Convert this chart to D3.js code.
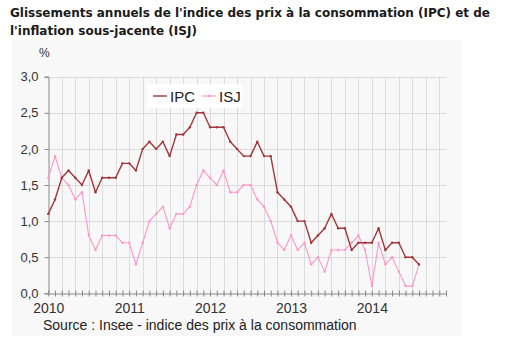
<!DOCTYPE html>
<html>
<head>
<meta charset="utf-8">
<script src="https://cdn.jsdelivr.net/npm/d3@7"></script>
<style>
  html, body { margin: 0; padding: 0; background: #ffffff; }
  svg { display: block; }
</style>
</head>
<body>
<svg id="chart" width="505" height="337"></svg>
<script>
// Monthly year-on-year changes, January 2010 to August 2014 (%)
const months = d3.timeMonth.range(new Date(2010, 0, 1), new Date(2014, 8, 1));
const ipc = [1.1, 1.3, 1.6, 1.7, 1.6, 1.5, 1.7, 1.4, 1.6, 1.6, 1.6, 1.8,
             1.8, 1.7, 2.0, 2.1, 2.0, 2.1, 1.9, 2.2, 2.2, 2.3, 2.5, 2.5,
             2.3, 2.3, 2.3, 2.1, 2.0, 1.9, 1.9, 2.1, 1.9, 1.9, 1.4, 1.3,
             1.2, 1.0, 1.0, 0.7, 0.8, 0.9, 1.1, 0.9, 0.9, 0.6, 0.7, 0.7,
             0.7, 0.9, 0.6, 0.7, 0.7, 0.5, 0.5, 0.4];
const isj = [1.6, 1.9, 1.6, 1.5, 1.3, 1.4, 0.8, 0.6, 0.8, 0.8, 0.8, 0.7,
             0.7, 0.4, 0.7, 1.0, 1.1, 1.2, 0.9, 1.1, 1.1, 1.2, 1.5, 1.7,
             1.6, 1.5, 1.7, 1.4, 1.4, 1.5, 1.5, 1.3, 1.2, 1.0, 0.7, 0.6,
             0.8, 0.6, 0.7, 0.4, 0.5, 0.3, 0.6, 0.6, 0.6, 0.7, 0.8, 0.6,
             0.1, 0.7, 0.4, 0.5, 0.3, 0.1, 0.1, 0.4];
const yTicks = [0, 0.5, 1.0, 1.5, 2.0, 2.5, 3.0];
const yearLabels = ["2010", "2011", "2012", "2013", "2014"];
const seriesNames = ["IPC", "ISJ"];
const titleLines = ["Glissements annuels de l'indice des prix à la consommation (IPC) et de",
                    "l'inflation sous-jacente (ISJ)"];
const sourceText = "Source : Insee - indice des prix à la consommation";

const colors = { IPC: "#a3363a", ISJ: "#ff96c6" };
const svg = d3.select("#chart");

// Light panel behind the chart
svg.append("rect")
  .attr("x", 12).attr("y", 40).attr("width", 450).attr("height", 296)
  .attr("fill", "#f8f8f8");

// Title
svg.append("g").selectAll("text").data(titleLines).join("text")
  .attr("x", 10).attr("y", (d, i) => 17 + i * 18)
  .attr("font-family", "DejaVu Sans, Verdana, sans-serif")
  .attr("font-weight", "bold").attr("font-size", 12)
  .attr("fill", "#1a1a1a")
  .text(d => d);

// Scales: months indexed from January 2010, axis runs to December 2014
const x = d3.scaleLinear().domain([0, 59]).range([48.3, 446]);
const y = d3.scaleLinear().domain([0, 3]).range([293.3, 76.7]);
const monthIdx = d => d3.timeMonth.count(new Date(2010, 0, 1), d);

// Grid
const grid = svg.append("g").attr("stroke", "#dcdcdc").attr("stroke-width", 1);
grid.selectAll("line.h").data(yTicks.filter(v => v > 0)).join("line")
  .attr("x1", x(0)).attr("x2", x(59))
  .attr("y1", d => Math.round(y(d)) + 0.5).attr("y2", d => Math.round(y(d)) + 0.5);
grid.selectAll("line.v").data(d3.range(2, 60, 2)).join("line")
  .attr("x1", d => Math.round(x(d)) + 0.5).attr("x2", d => Math.round(x(d)) + 0.5)
  .attr("y1", y(3)).attr("y2", y(0));

// Y axis
const yAxis = svg.append("g")
  .attr("transform", `translate(${Math.round(x(0)) + 0.5},0)`)
  .call(d3.axisLeft(y).tickValues(yTicks).tickSize(4)
        .tickFormat(d => d3.format(".1f")(d).replace(".", ",")));
yAxis.select(".domain").attr("stroke", "#888");
yAxis.selectAll(".tick line").attr("stroke", "#888");
yAxis.selectAll("text")
  .attr("font-family", "Liberation Sans, Arial, sans-serif")
  .attr("font-size", 13).attr("fill", "#333").attr("x", -10);

svg.append("text").attr("x", 39).attr("y", 57)
  .attr("font-family", "Liberation Sans, Arial, sans-serif")
  .attr("font-size", 12).attr("fill", "#333").text("%");

// X axis: a tick for every month, year labels in January
const xAxis = svg.append("g")
  .attr("transform", `translate(0,${Math.round(y(0)) + 0.5})`)
  .call(d3.axisBottom(x).tickValues(d3.range(0, 60)).tickSizeInner(3).tickSizeOuter(0)
        .tickFormat(d => d % 12 === 0 ? yearLabels[d / 12] : ""));
xAxis.select(".domain").attr("stroke", "#888");
xAxis.selectAll(".tick line").attr("stroke", "#888").attr("y1", -3).attr("y2", 3);
xAxis.selectAll("text")
  .attr("font-family", "Liberation Sans, Arial, sans-serif")
  .attr("font-size", 14).attr("fill", "#333").attr("y", 10);

// Series
const series = [
  { name: "IPC", values: ipc, width: 1.4 },
  { name: "ISJ", values: isj, width: 1.1 }
];
const line = d3.line().x(d => x(monthIdx(d.date))).y(d => y(d.value));
series.slice().reverse().forEach(s => {
  const pts = s.values.map((v, i) => ({ date: months[i], value: v }));
  const g = svg.append("g");
  g.append("path").datum(pts)
    .attr("fill", "none").attr("stroke", colors[s.name])
    .attr("stroke-width", s.width).attr("stroke-linejoin", "round")
    .attr("d", line);
  g.selectAll("circle").data(pts).join("circle")
    .attr("cx", d => x(monthIdx(d.date))).attr("cy", d => y(d.value))
    .attr("r", 1.2).attr("fill", colors[s.name]);
});

// Legend
const lg = svg.append("g");
lg.append("rect").attr("x", 147).attr("y", 84).attr("width", 95).attr("height", 24)
  .attr("fill", "#ffffff");
const items = lg.selectAll("g").data(seriesNames).join("g")
  .attr("transform", (d, i) => `translate(${153 + i * 49},96)`);
items.append("line").attr("x1", 0).attr("x2", 14).attr("y1", 0).attr("y2", 0)
  .attr("stroke", d => colors[d]).attr("stroke-width", d => d === "IPC" ? 1.4 : 1.1);
items.filter(d => d === "ISJ").append("circle")
  .attr("cx", 7).attr("cy", 0).attr("r", 1.3).attr("fill", colors.ISJ);
items.append("text").attr("x", 17).attr("y", 5.5)
  .attr("font-family", "Liberation Sans, Arial, sans-serif")
  .attr("font-size", 15).attr("fill", "#222").text(d => d);

// Source
svg.append("text").attr("x", 43).attr("y", 330)
  .attr("font-family", "Liberation Sans, Arial, sans-serif")
  .attr("font-size", 14).attr("fill", "#222").text(sourceText);
</script>
</body>
</html>
